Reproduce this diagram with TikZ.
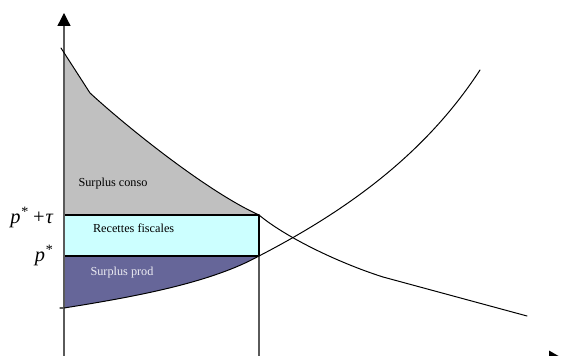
\documentclass[tikz,border=0pt]{standalone}
\usepackage{fontspec}
\setmainfont{Liberation Serif}
\usetikzlibrary{arrows.meta}

\begin{document}
\begin{tikzpicture}[x=1cm,y=1cm,line cap=round,line join=round,font=\small]
\definecolor{consofill}{RGB}{192,192,192}
\definecolor{taxfill}{RGB}{204,255,255}
\definecolor{prodfill}{RGB}{102,102,153}
\definecolor{axisgray}{RGB}{90,90,90}

\tikzset{
  axisline/.style={axisgray, line width=0.9pt},
  curveline/.style={black, line width=0.7pt},
  arealabel/.style={font=\fontsize{8.7}{10}\selectfont, inner sep=0pt},
  pricelabel/.style={font=\fontsize{14.5}{16}\selectfont\itshape, anchor=east, inner sep=0pt}
}

\useasboundingbox (0,0) rectangle (14.05,8.9);
\clip (0,0) rectangle (14.05,8.9);

% surplus areas
\fill[consofill] (1.6,7.584) -- (2.25,6.575)
  .. controls (3.2,5.7) and (5.2,4.1) .. (6.475,3.525)
  -- (1.6,3.525) -- cycle;
\fill[prodfill] (1.6,1.2)
  .. controls (3.5,1.5) and (5.3,1.85) .. (6.475,2.5)
  -- (1.6,2.5) -- cycle;
\filldraw[fill=taxfill, draw=black, line width=1pt] (1.6,2.5) rectangle (6.475,3.525);

% axes
\draw[axisline] (6.475,-0.05) -- (6.475,2.5);
\draw[axisline, -{Triangle[length=0.32cm,width=0.32cm,color=black]}] (1.6,-0.05) -- (1.6,8.575);
\draw[axisline, -{Triangle[length=0.32cm,width=0.36cm,color=black]}] (1.6,-0.05) -- (14.05,-0.05);
\draw[axisline] (1.5,1.2) -- (1.6,1.2);

% demand
\draw[curveline] (1.525,7.7) -- (2.25,6.575)
  .. controls (3.2,5.7) and (5.2,4.1) .. (6.475,3.525)
  .. controls (7.1,3.0) and (8.4,2.35) .. (9.575,1.975)
  -- (13.175,1.0);

% supply
\draw[curveline] (1.6,1.2)
  .. controls (3.5,1.5) and (5.3,1.85) .. (6.475,2.5)
  .. controls (8.6,3.6) and (10.6,5.0) .. (12.0,7.15);

% labels
\node[arealabel] (conso) at (2.825,4.3) {Surplus conso};
\node[arealabel] (recettes) at (3.34,3.2) {Recettes fiscales};
\node[arealabel, text=white!88!prodfill] (prod) at (3.05,2.075) {Surplus prod};
\node[pricelabel] (ptax) at (1.33,3.47) {p\textsuperscript{*}\,+τ};
\node[pricelabel] (pstar) at (1.33,2.52) {p\textsuperscript{*}};
\end{tikzpicture}
\end{document}
